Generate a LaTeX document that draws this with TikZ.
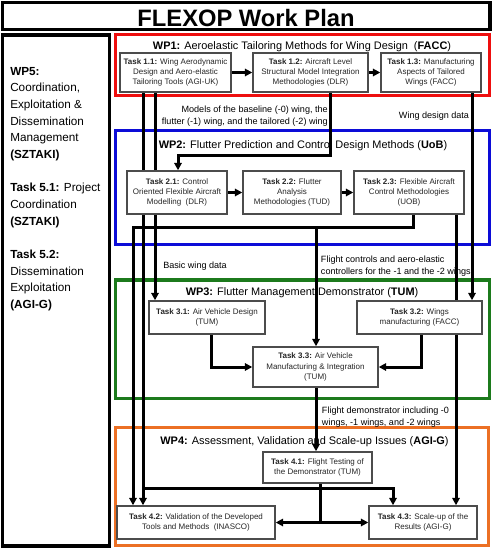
\documentclass[tikz,border=0pt]{standalone}
\usepackage{fontspec}
\setmainfont{Liberation Sans}
\usetikzlibrary{arrows.meta,calc}
\definecolor{wpred}{RGB}{238,14,14}
\definecolor{wpblue}{RGB}{12,12,215}
\definecolor{wpgreen}{RGB}{28,122,28}
\definecolor{wporange}{RGB}{236,112,36}
\pgfdeclarelayer{frames}
\pgfdeclarelayer{links}
\pgfsetlayers{frames,links,main}
\tikzset{
  taskbox/.style={draw=black!70, line width=1.1pt, fill=white, align=center,
    inner sep=0pt, font=\fontsize{6}{7.75}\selectfont, text=black!85},
  wh/.style 2 args={minimum width=#1*0.75pt, minimum height=#2*0.75pt},
  link/.style={line width=2.25pt, draw=black},
  tip/.style={-{Triangle[length=5.5pt,width=5.5pt]}},
  wpframe/.style={line width=2.25pt},
  blackframe/.style={line width=2.4pt, draw=black},
  wptitle/.style={anchor=base, font=\fontsize{8.2}{10}\selectfont, inner sep=0pt},
  note/.style={font=\fontsize{6.8}{9}\selectfont, inner sep=0pt},
}
\begin{document}
\begin{tikzpicture}[x=0.75pt,y=-0.75pt]
\useasboundingbox (0,0) rectangle (492,548);

% ---------- task boxes ----------
\node[taskbox, wh={111}{39}] (t11) at (175.5,72.5) {\textbf{Task 1.1:} Wing Aerodynamic\\Design and Aero-elastic\\Tailoring Tools (AGI-UK)};
\node[taskbox, wh={115}{39}] (t12) at (310.5,72.5) {\textbf{Task 1.2:} Aircraft Level\\Structural Model Integration\\Methodologies (DLR)};
\node[taskbox, wh={100}{39}] (t13) at (431,72.5) {\textbf{Task 1.3:} Manufacturing\\Aspects of Tailored\\Wings (FACC)};

\node[taskbox, wh={100}{43}] (t21) at (177,192.5) {\textbf{Task 2.1:} Control\\Oriented Flexible Aircraft\\Modelling\ \ (DLR)};
\node[taskbox, wh={98}{43}] (t22) at (292,192.5) {\textbf{Task 2.2:} Flutter\\Analysis\\Methodologies (TUD)};
\node[taskbox, wh={110}{43}] (t23) at (409,192.5) {\textbf{Task 2.3:} Flexible Aircraft\\Control Methodologies\\(UOB)};

\node[taskbox, wh={116}{33}] (t31) at (207,317.5) {\textbf{Task 3.1:} Air Vehicle Design\\(TUM)};
\node[taskbox, wh={125}{33}] (t32) at (419.5,317.5) {\textbf{Task 3.2:} Wings\\manufacturing (FACC)};
\node[taskbox, wh={125}{40}] (t33) at (315.5,367) {\textbf{Task 3.3:} Air Vehicle\\Manufacturing \& Integration\\(TUM)};

\node[taskbox, wh={109}{31}] (t41) at (317.5,467.5) {\textbf{Task 4.1:} Flight Testing of\\the Demonstrator (TUM)};
\node[taskbox, wh={158}{33}] (t42) at (196,522.5) {\textbf{Task 4.2:} Validation of the Developed\\Tools and Methods\ \ (INASCO)};
\node[taskbox, wh={108}{33}] (t43) at (423,522.5) {\textbf{Task 4.3:} Scale-up of the\\Results (AGI-G)};

% ---------- frames and titles ----------
\begin{pgfonlayer}{frames}
  \draw[blackframe] (2.5,2.5) rectangle (490,29.5);
  \node[anchor=base, inner sep=0pt, font=\fontsize{17.8}{20}\selectfont\bfseries] (title) at (246,27) {FLEXOP Work Plan};
  \draw[blackframe] (2.5,35) rectangle (109.5,546);
  \node[anchor=north west, inner sep=0pt, align=left, font=\fontsize{8.8}{12.5}\selectfont] (wp5) at (10,66.8)
    {\textbf{WP5:}\\Coordination,\\Exploitation \&\\Dissemination\\Management\\\textbf{(SZTAKI)}\\~\\\textbf{Task 5.1:} Project\\Coordination\\\textbf{(SZTAKI)}\\~\\\textbf{Task 5.2:}\\Dissemination\\Exploitation\\\textbf{(AGI-G)}};
  \draw[wpframe, draw=wpred] (115.5,35) rectangle (489,95.5);
  \draw[wpframe, draw=wpblue] (115.5,131) rectangle (489,245);
  \draw[wpframe, draw=wpgreen] (115.5,280) rectangle (489,398.5);
  \draw[wpframe, draw=wporange] (115.5,427) rectangle (488.5,545.5);
  \node[wptitle] (wp1) at (302,50) {\textbf{WP1:} Aeroelastic Tailoring Methods for Wing Design\ \ (\textbf{FACC})};
  \node[wptitle] (wp2) at (303,149) {\textbf{WP2:} Flutter Prediction and Control Design Methods (\textbf{UoB})};
  \node[wptitle] (wp3) at (302,295.6) {\textbf{WP3:} Flutter Management Demonstrator (\textbf{TUM})};
  \node[wptitle] (wp4) at (304.5,444) {\textbf{WP4:} Assessment, Validation and Scale-up Issues (\textbf{AGI-G})};
\end{pgfonlayer}

% ---------- junction points ----------
\coordinate (j1) at (143,488);
\coordinate (j2) at (316,228);

% ---------- connectors ----------
\begin{pgfonlayer}{links}
  \draw[link, tip] (t11.east) -- (t12.west);
  \draw[link, tip] (t12.east) -- (t13.west);
  \draw[link, tip] (t21.east) -- (t22.west);
  \draw[link, tip] (t22.east) -- (t23.west);
  \draw[link, tip] (t12.south -| 330,0) -- (330,156) -| (t21.north -| 178,0);
  \draw[link, tip] (t11.south -| 155,0) -- (t31.north -| 155,0);
  \draw[link, tip] (t11.south -| 143,0) -- (t42.north -| 143,0);
  \draw[link, tip] (j1) -| (t43.north -| 393,0);
  \draw[link, tip] (t13.south -| 472,0) -- (t32.north -| 472,0);
  \draw[link, tip] (t23.south -| 413,0) -- (413,228) -| (t42.north -| 133,0);
  \draw[link, tip] (j2) -- (t33.north -| j2);
  \draw[link, tip] (t23.south -| 456,0) -- (t43.north -| 456,0);
  \draw[link, tip] (t31.south -| 211.7,0) |- (t33.west);
  \draw[link, tip] (t32.south -| 421.7,0) |- (t33.east);
  \draw[link, tip] (t33.south -| 316,0) -- (t41.north -| 316,0);
  \draw[link] (t41.south -| 320,0) -- (t42.east -| 320,0);
  \draw[link, {Triangle[length=5.5pt,width=5.5pt]}-{Triangle[length=5.5pt,width=5.5pt]}] (t42.east) -- (t43.west);
\end{pgfonlayer}

% ---------- labels ----------
\node[note, align=right, anchor=north east] (lmodels) at (328,105.6) {Models of the baseline (-0) wing, the\\flutter (-1) wing, and the tailored (-2) wing};
\node[note, anchor=base west] (lwing) at (398.7,118.9) {Wing design data};
\node[note, anchor=base west] (lbasic) at (163,268.2) {Basic wing data};
\node[note, align=left, anchor=north west] (lflight) at (320.7,255.7) {Flight controls and aero-elastic\\controllers for the -1 and the -2 wings};
\node[note, align=left, anchor=north west] (ldemo) at (321.7,406.6) {Flight demonstrator including -0\\wings, -1 wings, and -2 wings};
\end{tikzpicture}
\end{document}
